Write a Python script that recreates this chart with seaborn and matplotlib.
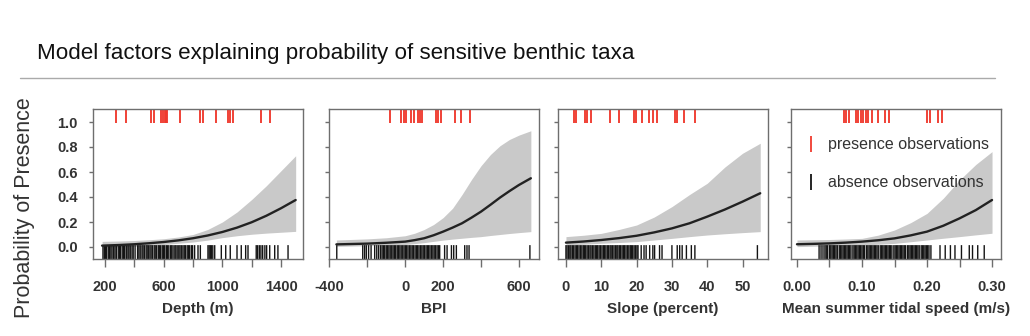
import numpy as np
import matplotlib
matplotlib.use("Agg")
import matplotlib.pyplot as plt
from matplotlib.lines import Line2D
import seaborn as sns

# ---------------- data ----------------
# Depth (m)
depth_x = [180, 300, 400, 500, 600, 700, 800, 900, 1000, 1100, 1200, 1300, 1400, 1500]
depth_fit = [0.011, 0.016, 0.022, 0.030, 0.040, 0.053, 0.070, 0.092, 0.120, 0.155, 0.198, 0.250, 0.310, 0.376]
depth_lo = [0.000, 0.002, 0.005, 0.012, 0.020, 0.030, 0.040, 0.055, 0.075, 0.090, 0.102, 0.111, 0.118, 0.125]
depth_hi = [0.045, 0.048, 0.052, 0.058, 0.066, 0.080, 0.100, 0.140, 0.200, 0.280, 0.380, 0.490, 0.610, 0.730]
depth_pres = [273, 345, 516, 532, 584, 596, 606, 615, 623, 709, 845, 868, 955,
              1038, 1054, 1073, 1261, 1327]
depth_abs = [186, 195, 203, 210, 222, 231, 240, 248, 259, 268, 277, 290, 298, 305,
             317, 326, 334, 345, 356, 363, 372, 384, 392, 405, 422, 431, 440, 452,
             459, 468, 480, 487, 495, 506, 514, 523, 535, 542, 551, 563, 570, 579,
             590, 598, 607, 618, 626, 635, 647, 655, 664, 676, 683, 692, 703, 711,
             720, 731, 740, 748, 760, 768, 777, 789, 797, 811, 834, 850, 902, 910,
             918, 926, 935, 948, 993, 1023, 1054, 1100, 1129, 1159, 1175, 1231,
             1240, 1252, 1263, 1275, 1290, 1302, 1323, 1357, 1379, 1448]

# BPI
bpi_x = [-363, -200, -100, 0, 50, 100, 150, 200, 250, 300, 350, 400, 450, 500, 550, 600, 663]
bpi_fit = [0.021, 0.027, 0.034, 0.043, 0.055, 0.070, 0.094, 0.123, 0.155, 0.190, 0.235,
           0.283, 0.338, 0.395, 0.447, 0.496, 0.550]
bpi_lo = [0.005, 0.010, 0.015, 0.020, 0.027, 0.035, 0.045, 0.055, 0.063, 0.070, 0.077,
          0.083, 0.092, 0.100, 0.108, 0.115, 0.123]
bpi_hi = [0.056, 0.065, 0.074, 0.090, 0.110, 0.140, 0.180, 0.235, 0.310, 0.420, 0.540,
          0.650, 0.740, 0.810, 0.860, 0.895, 0.930]
bpi_pres = [-78, -20, -8, 6, 30, 45, 70, 80, 90, 161, 173, 191, 261, 296, 343]
bpi_abs = [-361, -224, -214, -205, -193, -180, -161, -150, -140, -130, -122,
           -115, -108, -100, -93, -86, -79, -71, -64, -57, -50, -42, -35, -28,
           -21, -13, -6, 1, 8, 15, 23, 30, 37, 44, 52, 59, 66, 73, 81, 88, 95,
           102, 110, 117, 124, 131, 139, 146, 153, 160, 168, 175, 182, 208, 221,
           244, 256, 270, 314, 326, 337, 658]

# Slope (percent)
slope_x = [0, 5, 10, 15, 20, 25, 30, 35, 40, 45, 50, 55]
slope_fit = [0.035, 0.044, 0.056, 0.071, 0.090, 0.117, 0.149, 0.190, 0.243, 0.300, 0.363, 0.430]
slope_lo = [0.016, 0.022, 0.030, 0.036, 0.043, 0.056, 0.069, 0.083, 0.096, 0.106, 0.115, 0.123]
slope_hi = [0.083, 0.094, 0.109, 0.140, 0.176, 0.240, 0.323, 0.420, 0.510, 0.640, 0.750, 0.830]
slope_pres = [2.3, 2.9, 5.3, 6.0, 7.2, 12.4, 14.9, 19.3, 19.9, 21.5, 23.4, 24.6,
              25.9, 30.8, 31.5, 33.4, 36.5]
slope_abs = [0.0, 0.3, 0.7, 1.1, 1.4, 1.8, 2.2, 2.6, 3.0, 3.3, 3.7, 4.1, 4.5, 4.9,
             5.2, 5.6, 6.0, 6.4, 6.8, 7.1, 7.5, 7.9, 8.3, 8.7, 9.0, 9.4, 9.8, 10.2,
             10.6, 10.9, 11.3, 11.7, 12.1, 12.5, 12.8, 13.2, 13.6, 14.0, 14.4, 14.7,
             15.1, 15.5, 15.9, 16.3, 16.6, 17.0, 17.4, 17.8, 18.2, 18.5, 18.9, 19.3,
             19.7, 20.1, 20.4, 21.3, 22.1, 22.7, 23.7, 24.6, 25.1, 26.5, 27.2, 30.0,
             31.5, 32.2, 32.9, 34.1, 35.5, 36.5, 54.2]

# Mean summer tidal speed (m/s)
tidal_x = [0.0, 0.025, 0.05, 0.075, 0.10, 0.125, 0.15, 0.175, 0.20, 0.225, 0.25, 0.275, 0.30]
tidal_fit = [0.022, 0.025, 0.029, 0.035, 0.043, 0.054, 0.069, 0.093, 0.123, 0.170, 0.229, 0.295, 0.376]
tidal_lo = [0.003, 0.006, 0.010, 0.013, 0.016, 0.022, 0.029, 0.042, 0.056, 0.070, 0.083, 0.097, 0.110]
tidal_hi = [0.056, 0.058, 0.060, 0.064, 0.069, 0.095, 0.136, 0.195, 0.269, 0.390, 0.536, 0.660, 0.763]
tidal_pres = [0.072, 0.075, 0.080, 0.091, 0.094, 0.098, 0.102, 0.106, 0.110, 0.115,
              0.125, 0.135, 0.141, 0.200, 0.205, 0.217, 0.223]
tidal_abs = [0.034, 0.037, 0.040, 0.043, 0.045, 0.047, 0.050, 0.052, 0.054, 0.056,
             0.058, 0.060, 0.062, 0.065, 0.067, 0.069, 0.071, 0.073, 0.075, 0.077,
             0.079, 0.081, 0.083, 0.086, 0.088, 0.090, 0.092, 0.094, 0.096, 0.098,
             0.100, 0.102, 0.104, 0.107, 0.109, 0.111, 0.113, 0.115, 0.117, 0.119,
             0.121, 0.123, 0.125, 0.128, 0.130, 0.132, 0.134, 0.136, 0.138, 0.140,
             0.142, 0.144, 0.146, 0.149, 0.151, 0.153, 0.155, 0.157, 0.159, 0.161,
             0.163, 0.165, 0.167, 0.170, 0.172, 0.174, 0.176, 0.178, 0.180, 0.182,
             0.184, 0.186, 0.188, 0.191, 0.193, 0.195, 0.197, 0.199, 0.201, 0.203,
             0.206, 0.220, 0.228, 0.236, 0.243, 0.253, 0.265, 0.270, 0.278, 0.288]

# tick positions / labels per panel
depth_ticks = [200, 400, 600, 800, 1000, 1200, 1400]
depth_ticklabels = ["200", "", "600", "", "1000", "", "1400"]
bpi_ticks = [-400, -200, 0, 200, 400, 600]
bpi_ticklabels = ["-400", "", "0", "200", "", "600"]
slope_ticks = [0, 10, 20, 30, 40, 50]
slope_ticklabels = ["0", "10", "20", "30", "40", "50"]
tidal_ticks = [0.0, 0.05, 0.10, 0.15, 0.20, 0.25, 0.30]
tidal_ticklabels = ["0.00", "", "0.10", "", "0.20", "", "0.30"]
prob_ticks = [0.0, 0.2, 0.4, 0.6, 0.8, 1.0]
prob_ticklabels = ["0.0", "0.2", "0.4", "0.6", "0.8", "1.0"]

# ---------------- style ----------------
sns.set_theme(style="white")
plt.rcParams["font.family"] = ["Liberation Sans", "DejaVu Sans"]

TXT = "#333333"
SPINE = "#6e6e6e"
BAND = "#c9c9c9"
CURVE = "#222222"
RED = "#f03a2e"
BLACK = "#141414"

W, H = 1030, 336
fig = plt.figure(figsize=(W / 100, H / 100), dpi=100)
fig.patch.set_facecolor("white")

YLIM = (-0.096, 1.104)
panel_w, top_px, bot_px = 210, 109, 259

panels = [
    dict(left=93, x=depth_x, fit=depth_fit, lo=depth_lo, hi=depth_hi,
         pres=depth_pres, absn=depth_abs, xlim=(118, 1550),
         ticks=depth_ticks, labels=depth_ticklabels, xlabel="Depth (m)"),
    dict(left=329, x=bpi_x, fit=bpi_fit, lo=bpi_lo, hi=bpi_hi,
         pres=bpi_pres, absn=bpi_abs, xlim=(-402, 706),
         ticks=bpi_ticks, labels=bpi_ticklabels, xlabel="BPI"),
    dict(left=558, x=slope_x, fit=slope_fit, lo=slope_lo, hi=slope_hi,
         pres=slope_pres, absn=slope_abs, xlim=(-2.25, 57.2),
         ticks=slope_ticks, labels=slope_ticklabels, xlabel="Slope (percent)"),
    dict(left=791, x=tidal_x, fit=tidal_fit, lo=tidal_lo, hi=tidal_hi,
         pres=tidal_pres, absn=tidal_abs, xlim=(-0.0092, 0.3138),
         ticks=tidal_ticks, labels=tidal_ticklabels,
         xlabel="Mean summer tidal speed (m/s)"),
]

rug_h = (0.015 - YLIM[0]) / (YLIM[1] - YLIM[0])

for i, p in enumerate(panels):
    ax = fig.add_axes([p["left"] / W, 1 - bot_px / H, panel_w / W, (bot_px - top_px) / H])
    ax.fill_between(p["x"], p["lo"], p["hi"], color=BAND, lw=0, zorder=1)
    sns.lineplot(x=p["x"], y=p["fit"], ax=ax, color=CURVE, lw=1.7, zorder=3)
    sns.rugplot(x=p["absn"], height=rug_h, ax=ax, color=BLACK, lw=1.6,
                expand_margins=False, zorder=2, snap=False)
    ax.vlines(p["pres"], 0.99, YLIM[1], color=RED, lw=1.35, zorder=2)

    ax.set_xlim(*p["xlim"])
    ax.set_ylim(*YLIM)
    ax.set_xticks(p["ticks"])
    ax.set_xticklabels(p["labels"])
    ax.set_yticks(prob_ticks)
    ax.set_yticklabels(prob_ticklabels if i == 0 else [])
    ax.tick_params(axis="x", direction="out", length=6, width=1, color=SPINE,
                   pad=9, labelsize=10.5, labelcolor=TXT, bottom=True)
    ax.tick_params(axis="y", direction="out", length=3, width=1, color=SPINE,
                   pad=8, labelsize=10.5, labelcolor=TXT, left=True)
    for lab in ax.get_xticklabels() + ax.get_yticklabels():
        lab.set_fontweight("bold")
    ax.set_xlabel(p["xlabel"], fontsize=11, fontweight="bold", color=TXT, labelpad=6)
    ax.set_ylabel("")
    for s in ax.spines.values():
        s.set_color(SPINE)
        s.set_linewidth(1)
    ax.set_facecolor("white")

    if i == 3:
        handles = [Line2D([], [], marker="|", linestyle="none", color=RED,
                          markersize=11, markeredgewidth=1.3),
                   Line2D([], [], marker="|", linestyle="none", color=BLACK,
                          markersize=11, markeredgewidth=1.3)]
        leg = ax.legend(handles, ["presence observations", "absence observations"],
                        loc="upper left", bbox_to_anchor=(0.03, 0.855), frameon=False,
                        fontsize=11.5, handlelength=0.9, handletextpad=0.6,
                        labelspacing=1.45, borderaxespad=0)
        for t in leg.get_texts():
            t.set_color(TXT)

fig.text(37 / W, 1 - 53 / H, "Model factors explaining probability of sensitive benthic taxa",
         fontsize=16.1, color="#111111", va="center", ha="left")
fig.add_artist(Line2D([20 / W, 995 / W], [1 - 78 / H, 1 - 78 / H],
                      transform=fig.transFigure, color="#aaaaaa", lw=1))
fig.text(25 / W, 1 - 208 / H, "Probability of Presence", rotation=90,
         fontsize=15.5, color=TXT, va="center", ha="center")

fig.savefig("out.png", dpi=100, facecolor="white")
